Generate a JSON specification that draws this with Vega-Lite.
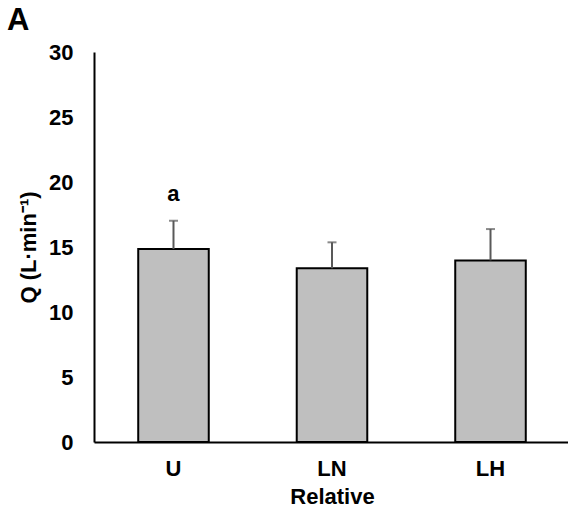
{
  "$schema": "https://vega.github.io/schema/vega-lite/v6.json",
  "width": 476,
  "height": 390,
  "autosize": "none",
  "padding": {"left": 94, "top": 52, "right": 0, "bottom": 77},
  "background": "white",
  "title": {"text": "A", "anchor": "start", "frame": "group", "dx": -87, "offset": 0, "baseline": "alphabetic", "dy": 20, "fontSize": 31, "font": "Liberation Sans", "fontWeight": "bold", "color": "black"},
  "config": {"view": {"stroke": null}},
  "data": {"values": [
    {"group": "U", "mean": 14.85, "upper": 17.02, "sig": "a"},
    {"group": "LN", "mean": 13.36, "upper": 15.36, "sig": ""},
    {"group": "LH", "mean": 13.97, "upper": 16.38, "sig": ""}
  ]},
  "encoding": {
    "x": {"field": "group", "type": "nominal", "sort": ["U", "LN", "LH"],
      "scale": {"paddingInner": 0.555, "paddingOuter": 0.279},
      "axis": {"title": "Relative", "labelAngle": 0, "ticks": false, "domainColor": "black", "domainWidth": 2,
        "labelFont": "Liberation Sans", "labelFontWeight": "bold", "labelFontSize": 22, "labelColor": "black", "labelPadding": 16,
        "titleFont": "Liberation Sans", "titleFontWeight": "bold", "titleFontSize": 22, "titleColor": "black", "titlePadding": 7}}
  },
  "layer": [
    {"mark": {"type": "bar", "fill": "#BFBFBF", "stroke": "black", "strokeWidth": 2},
     "encoding": {"y": {"field": "mean", "type": "quantitative",
       "scale": {"domain": [0, 30], "nice": false},
       "axis": {"title": "Q (L·min⁻¹)", "values": [0, 5, 10, 15, 20, 25, 30], "ticks": false, "grid": false,
         "domainColor": "black", "domainWidth": 2,
         "labelFont": "Liberation Sans", "labelFontWeight": "bold", "labelFontSize": 22, "labelColor": "black", "labelPadding": 21,
         "titleFont": "Liberation Sans", "titleFontWeight": "bold", "titleFontSize": 22, "titleColor": "black", "titlePadding": 8}}}},
    {"mark": {"type": "rule", "color": "#595959", "strokeWidth": 2},
     "encoding": {"y": {"field": "mean", "type": "quantitative"}, "y2": {"field": "upper"}}},
    {"mark": {"type": "tick", "color": "#595959", "thickness": 2, "size": 9},
     "encoding": {"y": {"field": "upper", "type": "quantitative"}}},
    {"mark": {"type": "text", "font": "Liberation Sans", "fontWeight": "bold", "fontSize": 22, "color": "black", "baseline": "middle", "dy": -27},
     "encoding": {"y": {"field": "upper", "type": "quantitative"}, "text": {"field": "sig"}}}
  ]
}
